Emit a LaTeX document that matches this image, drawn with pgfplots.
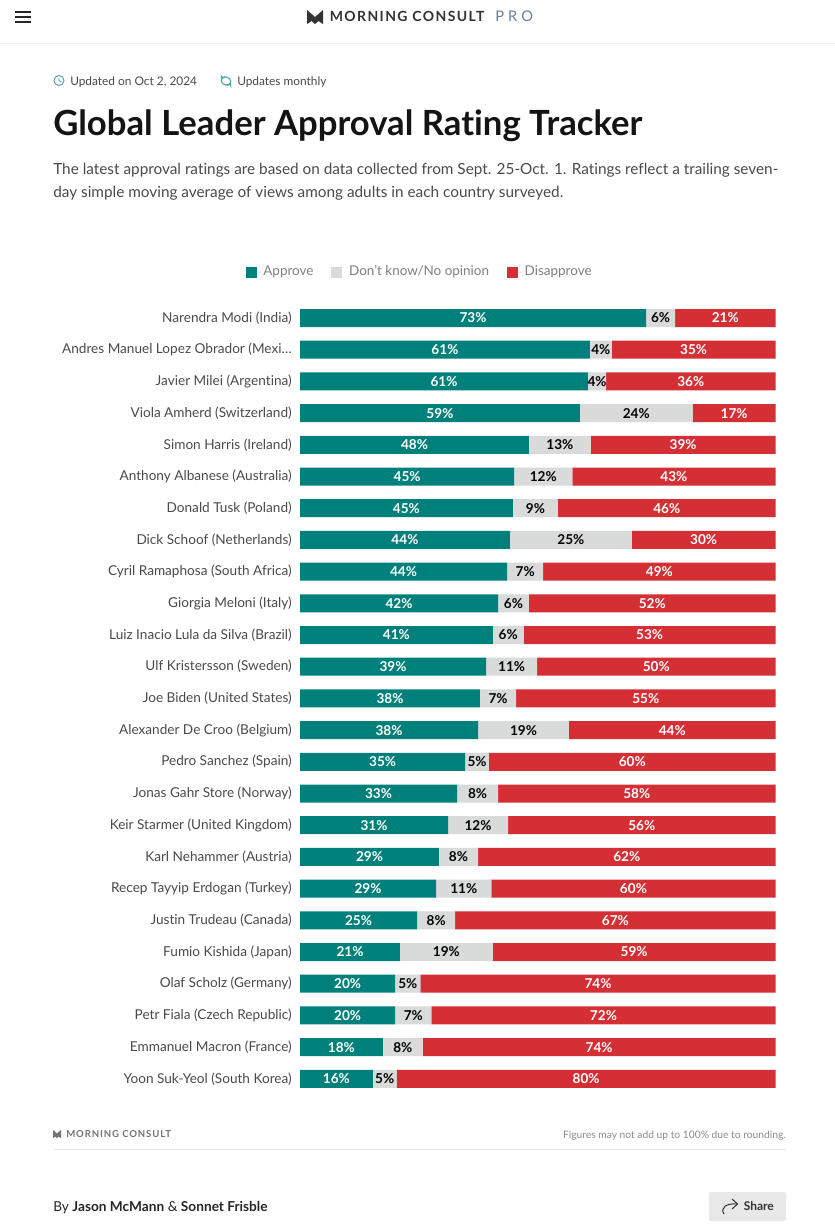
\documentclass[border=0pt]{standalone}
\usepackage{fontspec}
\usepackage{pgfplots}
\usepackage{pgfplotstable}
\pgfplotsset{compat=1.18}
\setmainfont{Lato}[Ligatures=NoCommon]
\definecolor{teal1}{HTML}{00807A}
\definecolor{gray1}{HTML}{D9DADA}
\definecolor{red1}{HTML}{D32F35}
\definecolor{ink}{HTML}{4A4A4A}
\definecolor{soft}{HTML}{808080}
\definecolor{prob}{HTML}{6C7FA0}

% widths (percent), labels as printed
\pgfplotstableread{
idx a g d la lg ld
0 72.7 6.1 21.1 73 6 21
1 60.9 4.6 34.4 61 4 35
2 60.5 3.8 35.6 61 4 36
3 58.8 23.7 17.4 59 24 17
4 48.1 13.0 38.8 48 13 39
5 45.0 12.2 42.7 45 12 43
6 44.7 9.5 45.7 45 9 46
7 44.1 25.6 30.2 44 25 30
8 43.5 7.6 48.8 44 7 49
9 41.6 6.5 51.8 42 6 52
10 40.5 6.5 52.9 41 6 53
11 39.1 10.7 50.1 39 11 50
12 37.8 7.6 54.5 38 7 55
13 37.4 19.1 43.4 38 19 44
14 34.7 5.0 60.2 35 5 60
15 33.0 8.6 58.3 33 8 58
16 31.1 12.6 56.2 31 12 56
17 29.2 8.2 62.5 29 8 62
18 28.6 11.6 59.7 29 11 60
19 24.6 8.0 67.3 25 8 67
20 21.0 19.5 59.4 21 19 59
21 20.0 5.3 74.6 20 5 74
22 20.0 7.6 72.3 20 7 72
23 17.4 8.4 74.1 18 8 74
24 15.3 5.0 79.6 16 5 80
}\ratings

\begin{document}
\begin{tikzpicture}[x=0.75pt,y=-0.75pt]
\path[use as bounding box,fill=white] (0,0) rectangle (835,1232);

% page header
\draw[line width=1.1pt,black!85] (15,12) -- (31,12) (15,17) -- (31,17) (15,22) -- (31,22);
\fill[black!80] (307,10) -- (315,17) -- (323,10) -- (323,24) -- (318.5,21) -- (315,24) -- (311.5,21) -- (307,24) -- cycle;
\node[anchor=base west,inner sep=0,text=black!80,font=\fontsize{10.5}{12}\selectfont\bfseries\addfontfeature{LetterSpace=10}] at (329.5,21.5) {MORNING CONSULT};
\node[anchor=base west,inner sep=0,text=prob,font=\fontsize{11}{12}\selectfont\addfontfeature{LetterSpace=28}] at (495,21.5) {PRO};
\fill[black!6] (0,42.5) rectangle (835,44);

\draw[teal1!70,line width=0.7pt] (59,80.5) circle[radius=5];
\draw[teal1!70,line width=0.6pt] (59,77.5) -- (59,80.5) -- (61.5,82);
\node[anchor=base west,inner sep=0,text=ink,font=\fontsize{8.9}{10}\selectfont] at (70,85) {Updated on Oct 2, 2024};
\draw[teal1!70,line width=0.8pt,->,>=stealth] (221,80) arc[start angle=180,end angle=20,radius=5];
\draw[teal1!70,line width=0.8pt,->,>=stealth] (231,82) arc[start angle=0,end angle=-160,radius=5];
\node[anchor=base west,inner sep=0,text=ink,font=\fontsize{8.9}{10}\selectfont] at (237,85) {Updates monthly};

\node[anchor=base west,inner sep=0,text=black!92,font=\fontsize{26}{30}\selectfont\bfseries] at (53,135) {Global Leader Approval Rating Tracker};
\node[anchor=base west,inner sep=0,text=ink,font=\fontsize{11.5}{14}\selectfont] at (53,174.5) {The latest approval ratings are based on data collected from Sept. 25-Oct. 1. Ratings reflect a trailing seven-};
\node[anchor=base west,inner sep=0,text=ink,font=\fontsize{11.5}{14}\selectfont] at (53,197.5) {day simple moving average of views among adults in each country surveyed.};

\begin{axis}[
  at={(225pt,-821pt)},anchor=south west,
  scale only axis,width=357pt,height=594.4pt,
  xbar stacked,bar width=13.5pt,
  xmin=0,xmax=100,ymin=-0.5,ymax=24.5,y dir=reverse,
  axis line style={draw=none},
  xtick=\empty,
  ytick={0,...,24},
  major tick length=0pt,
  yticklabels={Narendra Modi (India),Andres Manuel Lopez Obrador (Mexi…,Javier Milei (Argentina),Viola Amherd (Switzerland),Simon Harris (Ireland),Anthony Albanese (Australia),Donald Tusk (Poland),Dick Schoof (Netherlands),Cyril Ramaphosa (South Africa),Giorgia Meloni (Italy),Luiz Inacio Lula da Silva (Brazil),Ulf Kristersson (Sweden),Joe Biden (United States),Alexander De Croo (Belgium),Pedro Sanchez (Spain),Jonas Gahr Store (Norway),Keir Starmer (United Kingdom),Karl Nehammer (Austria),Recep Tayyip Erdogan (Turkey),Justin Trudeau (Canada),Fumio Kishida (Japan),Olaf Scholz (Germany),Petr Fiala (Czech Republic),Emmanuel Macron (France),Yoon Suk-Yeol (South Korea)},
  yticklabel style={font=\fontsize{10.2}{11}\selectfont,text=ink,inner sep=0pt,xshift=-6pt},
  point meta=explicit symbolic,
  nodes near coords={\pgfplotspointmeta\%},
  nodes near coords style={font=\fontsize{10.2}{11}\selectfont\bfseries,inner sep=0pt},
  legend columns=3,
  legend style={draw=none,fill=none,at={(axis description cs:0.2521,1.0379)},anchor=center,font=\fontsize{10.1}{11}\selectfont,text=soft,nodes={text height=7.5pt,text depth=2.2pt},/tikz/every even column/.append style={column sep=11.5pt}},
  legend image code/.code={\fill[#1] (0pt,-4.1pt) rectangle (8.25pt,4.1pt);\path (0pt,0pt) -- (11.25pt,0pt);},
]
\addplot[fill=teal1,draw=none,nodes near coords style={text=white}] table[x=a,y=idx,meta=la] {\ratings};
\addplot[fill=gray1,draw=none,nodes near coords style={text=black}] table[x=g,y=idx,meta=lg] {\ratings};
\addplot[fill=red1,draw=none,nodes near coords style={text=white}] table[x=d,y=idx,meta=ld] {\ratings};
\legend{Approve,Don't know/No opinion,Disapprove}
\end{axis}

% page footer
\fill[black!55] (53,1130) -- (57,1133.5) -- (61,1130) -- (61,1138) -- (58.5,1136.5) -- (57,1138) -- (55.5,1136.5) -- (53,1138) -- cycle;
\node[anchor=base west,inner sep=0,text=black!55,font=\fontsize{7.2}{8}\selectfont\bfseries\addfontfeature{LetterSpace=9}] at (66,1137.5) {MORNING CONSULT};
\node[anchor=base east,inner sep=0,text=black!45,font=\fontsize{7.7}{9}\selectfont] at (786,1138.5) {Figures may not add up to 100\% due to rounding.};
\draw[black!10,line width=0.8pt] (53,1149.5) -- (786,1149.5);
\node[anchor=base west,inner sep=0,text=black!85,font=\fontsize{10.25}{12}\selectfont] at (53,1211) {By \textbf{Jason McMann} \& \textbf{Sonnet Frisble}};
\fill[black!9,rounded corners=1.5pt] (709,1192) rectangle (786,1221);
\draw[black!85,line width=0.7pt] (724,1214) .. controls (720,1208) and (726,1203) .. (737,1204);
\draw[black!85,line width=0.7pt] (732,1199) -- (737.5,1204) -- (732,1209);
\node[anchor=base west,inner sep=0,text=black!80,font=\fontsize{9}{10}\selectfont\bfseries] at (743.5,1210) {Share};
\end{tikzpicture}
\end{document}
